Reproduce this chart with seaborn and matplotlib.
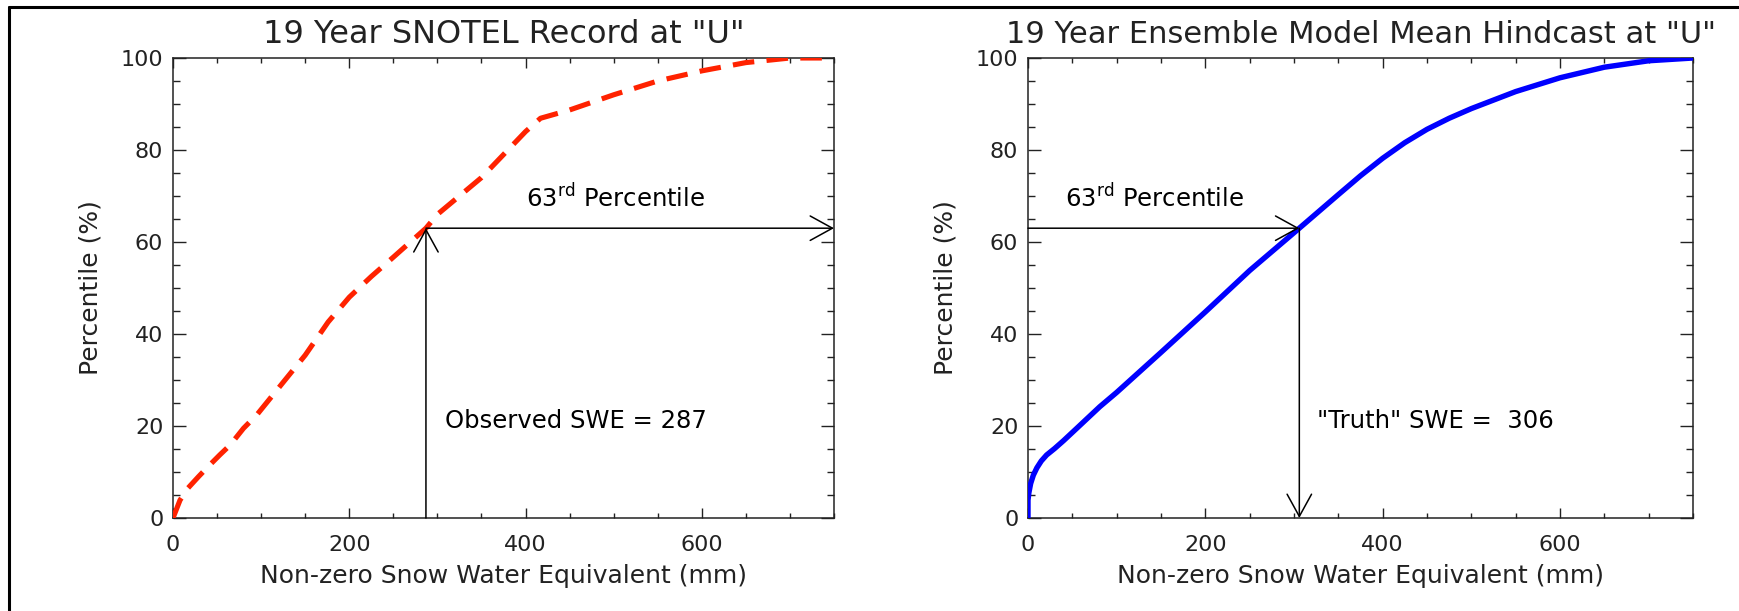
import matplotlib
matplotlib.use("Agg")
import matplotlib.pyplot as plt
from matplotlib.lines import Line2D
from matplotlib.ticker import MultipleLocator, FixedLocator
import pandas as pd
import seaborn as sns

# Empirical CDF of the SNOTEL record (mm, %)
obs_swe = [0, 8, 17, 29, 40, 53, 65, 80, 95, 106, 125, 150, 176, 200, 225, 250,
           287, 300, 325, 350, 375, 400, 417, 450, 500, 550, 600, 650, 700, 750]
obs_pct = [0, 3.9, 6.5, 9, 11.2, 13.7, 15.9, 19.5, 22.4, 25, 29.5, 35.4, 42.6, 48,
           52.5, 56.7, 63, 66, 70, 74, 79, 84, 86.9, 88.7, 92, 95, 97.2, 99, 100, 100]

# CDF of the ensemble model mean hindcast (mm, %)
mod_swe = [0, 0, 1, 3, 6, 10, 15, 21, 30, 40, 55, 81, 100, 150, 200, 250, 306,
           350, 375, 400, 425, 450, 475, 500, 550, 600, 650, 700, 750]
mod_pct = [0, 3.9, 5.5, 7.5, 9.3, 10.9, 12.4, 13.7, 15.1, 16.8, 19.5, 24.2, 27.3,
           36, 44.8, 53.8, 63, 70.3, 74.4, 78.2, 81.6, 84.5, 86.9, 89, 92.7,
           95.7, 98, 99.4, 100]

x_ticks = [0, 200, 400, 600]
y_ticks = [0, 20, 40, 60, 80, 100]
titles = ['19 Year SNOTEL Record at "U"',
          '19 Year Ensemble Model Mean Hindcast at "U"']
x_label = "Non-zero Snow Water Equivalent (mm)"
y_label = "Percentile (%)"
pctl = 63
obs_value = 287
truth_value = 306

sns.set_theme(style="white")
plt.rcParams["font.family"] = ["DejaVu Sans"]
plt.rcParams["mathtext.fontset"] = "dejavusans"

W, H = 1740, 611
fig = plt.figure(figsize=(W / 100, H / 100), dpi=100)
fig.patch.set_facecolor("white")

ax_l = fig.add_axes([173 / W, (H - 518) / H, (834 - 173) / W, 460 / H])
ax_r = fig.add_axes([1028 / W, (H - 518) / H, (1693 - 1028) / W, 460 / H])

obs_df = pd.DataFrame({"swe": obs_swe, "pct": obs_pct})
mod_df = pd.DataFrame({"swe": mod_swe, "pct": mod_pct})

sns.lineplot(data=obs_df, x="swe", y="pct", ax=ax_l, color="#ff2200",
             linewidth=3.7, estimator=None, sort=False, zorder=3)
ax_l.lines[-1].set_dashes([4.2, 2.4])
ax_l.lines[-1].set_dash_capstyle("butt")

sns.lineplot(data=mod_df, x="swe", y="pct", ax=ax_r, color="#0000ff",
             linewidth=3.9, estimator=None, sort=False, zorder=3)

arrow_kw = dict(arrowstyle="->,head_length=1.0,head_width=0.55",
                mutation_scale=16, lw=1.1, color="black",
                shrinkA=0, shrinkB=0)

# Observed: up from the SWE value to the percentile, then across
ax_l.annotate("", xy=(obs_value, pctl), xytext=(obs_value, 0),
              arrowprops=arrow_kw, annotation_clip=False)
ax_l.annotate("", xy=(750, pctl), xytext=(obs_value, pctl),
              arrowprops=arrow_kw, annotation_clip=False)
ax_l.text(400, 69.5, "63$^{\\rm rd}$ Percentile", fontsize=17.5,
          ha="left", va="center", color="black")
ax_l.text(309, 21, f"Observed SWE = {obs_value}", fontsize=17.5,
          ha="left", va="center", color="black")

# Model: across from the percentile, then down to the SWE value
ax_r.annotate("", xy=(truth_value, pctl), xytext=(0, pctl),
              arrowprops=arrow_kw, annotation_clip=False)
ax_r.annotate("", xy=(truth_value, 0), xytext=(truth_value, pctl),
              arrowprops=arrow_kw, annotation_clip=False)
ax_r.text(42, 69.5, "63$^{\\rm rd}$ Percentile", fontsize=17.5,
          ha="left", va="center", color="black")
ax_r.text(326, 21, f'"Truth" SWE =  {truth_value}', fontsize=17.5,
          ha="left", va="center", color="black")

title_sizes = [23, 22]
for ax, title, tsize in zip([ax_l, ax_r], titles, title_sizes):
    ax.set_xlim(0, 750)
    ax.set_ylim(0, 100)
    ax.xaxis.set_major_locator(FixedLocator(x_ticks))
    ax.yaxis.set_major_locator(FixedLocator(y_ticks))
    ax.xaxis.set_minor_locator(MultipleLocator(50))
    ax.yaxis.set_minor_locator(MultipleLocator(5))
    ax.set_xticklabels([str(t) for t in x_ticks])
    ax.set_yticklabels([str(t) for t in y_ticks])
    ax.tick_params(axis="x", which="major", direction="in", length=7.5,
                   width=1.0, top=True, bottom=True, labelsize=16, pad=12,
                   color="#222222", labelcolor="#222222")
    ax.tick_params(axis="x", which="minor", direction="in", length=3.8,
                   width=1.0, top=True, bottom=True, color="#222222")
    ax.tick_params(axis="y", which="major", direction="in", length=9.5,
                   width=1.0, left=True, right=True, labelsize=16, pad=7,
                   color="#222222", labelcolor="#222222")
    ax.tick_params(axis="y", which="minor", direction="in", length=4.8,
                   width=1.0, left=True, right=True, color="#222222")
    for sp in ax.spines.values():
        sp.set_visible(True)
        sp.set_linewidth(1.1)
        sp.set_color("#222222")
    ax.set_xlabel(x_label, fontsize=18, color="#222222", labelpad=7)
    ax.set_ylabel(y_label, fontsize=18, color="#222222", labelpad=13)
    ax.set_title(title, fontsize=tsize, color="#222222", pad=11)
    ax.set_facecolor("white")

# Page frame along the top and left edges
top_y = 1 - 7 / H
left_x = 9 / W
fig.add_artist(Line2D([left_x, 1.0], [top_y, top_y], transform=fig.transFigure,
                      color="black", linewidth=2.2))
fig.add_artist(Line2D([left_x, left_x], [0.0, top_y], transform=fig.transFigure,
                      color="black", linewidth=2.2))

fig.savefig("out.png", dpi=100, facecolor="white")
